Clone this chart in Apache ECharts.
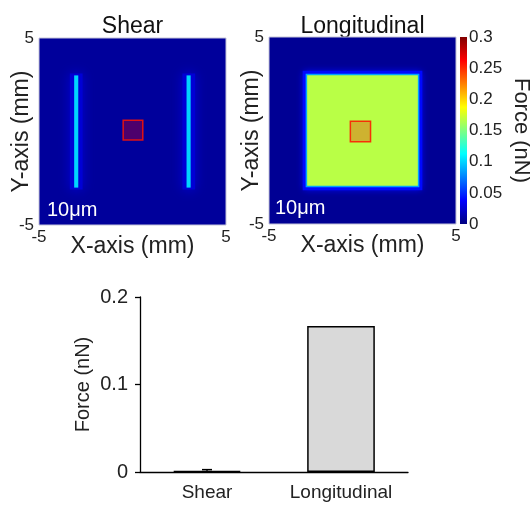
<!DOCTYPE html>
<html>
<head>
<meta charset="utf-8">
<script src="https://cdn.jsdelivr.net/npm/echarts@6/dist/echarts.min.js"></script>
<style>
html,body{margin:0;padding:0;background:#fff;}
#main{width:530px;height:505px;}
</style>
</head>
<body>
<div id="main"></div>
<script>
// ---------- DATA ----------
// heatmap regions: [x0, x1, y0, y1, force (nN)]
const shearField = [
  [-5, 5, -5, 5, 0.008],
  [-3.12, -2.9, -3, 3, 0.1],
  [2.89, 3.11, -3, 3, 0.1]
];
const shearGlow = [
  [-3.35, -2.67, -3.1, 3.1, 0.025],
  [2.67, 3.35, -3.1, 3.1, 0.025]
];
const shearMarker = [[-0.5, 0.55, -0.45, 0.6]];

const longField = [
  [-5, 5, -5, 5, 0.006],
  [-3, 3, -3, 3, 0.167]
];
const longGlow = [
  [-3.2, 3.2, -3.2, 3.2, 0.04]
];
const longMarker = [[-0.65, 0.43, -0.6, 0.5]];

const heatTitles = ['Shear', 'Longitudinal'];
const scaleLabel = '10μm';
const colorbarMax = [0.3];

const barCategories = ['Shear', 'Longitudinal'];
const barForce = [0.0012, 0.167];
const barError = [0.0015, 0];

// ---------- STYLE HELPERS ----------
const FONT = 'Liberation Sans, Arial, sans-serif';
const CMAX = 0.3;
function jet(v) {
  const t = Math.max(0, Math.min(1, v / CMAX));
  const c = x => Math.round(255 * Math.max(0, Math.min(1, x)));
  return 'rgb(' + c(1.5 - Math.abs(4 * t - 3)) + ',' + c(1.5 - Math.abs(4 * t - 2)) + ',' + c(1.5 - Math.abs(4 * t - 1)) + ')';
}
function regionRender(opts) {
  return function (params, api) {
    const p0 = api.coord([api.value(0), api.value(3)]);
    const p1 = api.coord([api.value(1), api.value(2)]);
    const col = jet(api.value(4));
    return {
      type: 'rect',
      shape: { x: p0[0], y: p0[1], width: p1[0] - p0[0], height: p1[1] - p0[1] },
      style: Object.assign({ fill: col }, opts.blur ? { shadowBlur: opts.blur, shadowColor: col } : {},
        opts.stroke ? { stroke: opts.stroke, lineWidth: opts.lineWidth } : {})
    };
  };
}
function markerRender(params, api) {
  const p0 = api.coord([api.value(0), api.value(3)]);
  const p1 = api.coord([api.value(1), api.value(2)]);
  return {
    type: 'rect',
    shape: { x: p0[0], y: p0[1], width: p1[0] - p0[0], height: p1[1] - p0[1] },
    style: { fill: 'rgba(255,0,0,0.3)', stroke: 'rgba(255,20,0,0.85)', lineWidth: 1.5 }
  };
}
function heatX(gi) {
  return {
    type: 'value', gridIndex: gi, min: -5, max: 5, interval: 10,
    axisLine: { show: false }, axisTick: { show: false }, splitLine: { show: false },
    axisLabel: { fontSize: 17, color: '#222', margin: 4, fontFamily: FONT },
    name: 'X-axis (mm)', nameLocation: 'middle', nameGap: 10, nameMoveOverlap: false,
    nameTextStyle: { fontSize: 23, color: '#222', fontFamily: FONT }
  };
}
function heatY(gi) {
  return {
    type: 'value', gridIndex: gi, min: -5, max: 5, interval: 10,
    axisLine: { show: false }, axisTick: { show: false }, splitLine: { show: false },
    axisLabel: { fontSize: 17, color: '#222', margin: 5, fontFamily: FONT },
    name: 'Y-axis (mm)', nameLocation: 'middle', nameGap: 6, nameMoveOverlap: false,
    nameTextStyle: { fontSize: 23, color: '#222', fontFamily: FONT }
  };
}

const chart = echarts.init(document.getElementById('main'));
const option = {
  animation: false,
  backgroundColor: '#fff',
  textStyle: { fontFamily: FONT },
  grid: [
    { left: 39, top: 38, width: 187, height: 187, show: true, z: 10, borderColor: '#c4c4d8', borderWidth: 1, backgroundColor: 'transparent', outerBoundsMode: 'none', containLabel: false },
    { left: 269, top: 37, width: 187, height: 187, show: true, z: 10, borderColor: '#c4c4d8', borderWidth: 1, backgroundColor: 'transparent', outerBoundsMode: 'none', containLabel: false },
    { left: 460, top: 37, width: 7, height: 187, outerBoundsMode: 'none', containLabel: false },
    { left: 140, top: 297, width: 268, height: 175, outerBoundsMode: 'none', containLabel: false }
  ],
  xAxis: [
    heatX(0), heatX(1),
    { type: 'category', gridIndex: 2, data: [''], show: false },
    {
      type: 'category', gridIndex: 3, data: barCategories,
      axisLine: { lineStyle: { color: '#000', width: 1.3 } },
      axisTick: { alignWithLabel: true, length: 4, lineStyle: { color: '#000', width: 1.3 } },
      axisLabel: { fontSize: 19, color: '#222', margin: 11, fontFamily: FONT }
    }
  ],
  yAxis: [
    heatY(0), heatY(1),
    {
      type: 'value', gridIndex: 2, min: 0, max: 0.3, interval: 0.05, position: 'right',
      axisLine: { show: false }, axisTick: { show: false }, splitLine: { show: false },
      axisLabel: { fontSize: 17, color: '#222', margin: 2, fontFamily: FONT },
      name: 'Force (nN)', nameLocation: 'middle', nameGap: 43, nameRotate: -90, nameMoveOverlap: false,
      nameTextStyle: { fontSize: 22, color: '#222', fontFamily: FONT }
    },
    {
      type: 'value', gridIndex: 3, min: 0, max: 0.2, interval: 0.1,
      axisLine: { show: true, lineStyle: { color: '#000', width: 1.3 } },
      axisTick: { show: true, length: 5, lineStyle: { color: '#000', width: 1.3 } },
      splitLine: { show: false },
      axisLabel: { fontSize: 20, color: '#222', margin: 12, fontFamily: FONT },
      name: 'Force (nN)', nameLocation: 'middle', nameGap: 47, nameMoveOverlap: false,
      nameTextStyle: { fontSize: 20, color: '#222', fontFamily: FONT }
    }
  ],
  series: [
    { type: 'custom', xAxisIndex: 0, yAxisIndex: 0, data: shearField.slice(0, 1), renderItem: regionRender({}), z: 1 },
    { type: 'custom', xAxisIndex: 0, yAxisIndex: 0, data: shearGlow, renderItem: regionRender({ blur: 12 }), z: 2 },
    { type: 'custom', xAxisIndex: 0, yAxisIndex: 0, data: shearField.slice(1), renderItem: regionRender({}), z: 3 },
    { type: 'custom', xAxisIndex: 0, yAxisIndex: 0, data: shearMarker, renderItem: markerRender, z: 4 },

    { type: 'custom', xAxisIndex: 1, yAxisIndex: 1, data: longField.slice(0, 1), renderItem: regionRender({}), z: 1 },
    { type: 'custom', xAxisIndex: 1, yAxisIndex: 1, data: longGlow, renderItem: regionRender({ blur: 7 }), z: 2 },
    { type: 'custom', xAxisIndex: 1, yAxisIndex: 1, data: longField.slice(1), renderItem: regionRender({ stroke: jet(0.085), lineWidth: 1.5 }), z: 3 },
    { type: 'custom', xAxisIndex: 1, yAxisIndex: 1, data: longMarker, renderItem: markerRender, z: 4 },

    {
      type: 'bar', xAxisIndex: 2, yAxisIndex: 2, data: colorbarMax, barWidth: '100%',
      itemStyle: {
        color: new echarts.graphic.LinearGradient(0, 0, 0, 1, [
          { offset: 0, color: '#800000' }, { offset: 0.125, color: '#ff0000' },
          { offset: 0.375, color: '#ffff00' }, { offset: 0.625, color: '#00ffff' },
          { offset: 0.875, color: '#0000ff' }, { offset: 1, color: '#000080' }
        ])
      }
    },
    {
      type: 'bar', xAxisIndex: 3, yAxisIndex: 3, data: barForce, barWidth: '50.5%',
      itemStyle: { color: '#d9d9d9', borderColor: '#000', borderWidth: 1.5 }
    },
    {
      type: 'custom', xAxisIndex: 3, yAxisIndex: 3,
      data: barForce.map((v, i) => [i, v, barError[i]]),
      renderItem: function (params, api) {
        if (!(api.value(2) > 0)) return null;
        const top = api.coord([api.value(0), api.value(1) + api.value(2)]);
        const base = api.coord([api.value(0), api.value(1)]);
        return {
          type: 'group', children: [
            { type: 'line', shape: { x1: top[0], y1: top[1], x2: base[0], y2: base[1] }, style: { stroke: '#000', lineWidth: 1.3 } },
            { type: 'line', shape: { x1: top[0] - 5, y1: top[1], x2: top[0] + 5, y2: top[1] }, style: { stroke: '#000', lineWidth: 1.5 } }
          ]
        };
      },
      z: 5
    }
  ],
  graphic: [
    { type: 'text', x: 132.5, y: 27, style: { text: heatTitles[0], align: 'center', verticalAlign: 'middle', fontSize: 23, fill: '#111', fontFamily: FONT } },
    { type: 'text', x: 362.5, y: 27, style: { text: heatTitles[1], align: 'center', verticalAlign: 'middle', fontSize: 23, fill: '#111', fontFamily: FONT } },
    { type: 'text', x: 47, y: 210, z: 20, style: { text: scaleLabel, align: 'left', verticalAlign: 'middle', fontSize: 20, fill: '#fff', fontFamily: FONT } },
    { type: 'text', x: 275, y: 208.5, z: 20, style: { text: scaleLabel, align: 'left', verticalAlign: 'middle', fontSize: 20, fill: '#fff', fontFamily: FONT } }
  ]
};
chart.setOption(option);
</script>
</body>
</html>
